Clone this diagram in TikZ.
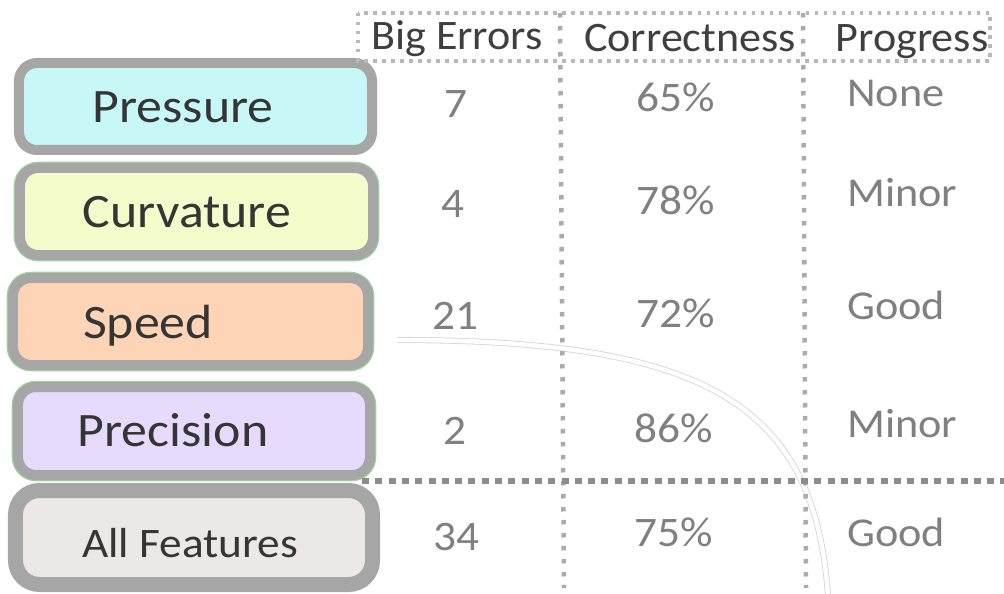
\documentclass[tikz,border=0pt]{standalone}
\usepackage{fontspec}
\setmainfont{Carlito}
\newfontfamily\widefont[FakeStretch=1.08]{Carlito}
\newfontfamily\semiwidefont[FakeStretch=1.05]{Carlito}
\definecolor{boxgrey}{HTML}{A6A6A6}
\definecolor{edgegreen}{HTML}{9AD69A}
\definecolor{fillcyan}{HTML}{C8F7F7}
\definecolor{fillyellow}{HTML}{F4FCCB}
\definecolor{fillpeach}{HTML}{FDD5B6}
\definecolor{filllav}{HTML}{E6DBFC}
\definecolor{fillgrey}{HTML}{EDE8E8}
\definecolor{labeltext}{HTML}{353535}
\definecolor{headtext}{HTML}{3F3F3F}
\definecolor{valtext}{HTML}{808080}
\definecolor{dotlight}{HTML}{B8B8B8}
\definecolor{dotmid}{HTML}{ABABAB}
\definecolor{dotdark}{HTML}{8C8C8C}
\begin{document}
\begin{tikzpicture}[x=1bp,y=-1bp,
  featbox/.style={rounded corners=18bp, draw=boxgrey, line width=10bp, inner sep=0pt,
    minimum width=#1},
  greenedge/.style={preaction={draw=edgegreen, line width=12.5bp}},
  featlabel/.style={anchor=base, inner sep=0pt, text=labeltext, font=\widefont\fontsize{48bp}{56bp}\selectfont},
  headlabel/.style={anchor=base, inner sep=0pt, text=headtext, font=\semiwidefont\fontsize{42bp}{50bp}\selectfont},
  vallabel/.style={anchor=base, inner sep=0pt, text=valtext, font=\widefont\fontsize{42bp}{50bp}\selectfont},
  proglabel/.style={anchor=base west, inner sep=0pt, text=valtext, font=\widefont\fontsize{41bp}{50bp}\selectfont},
  hdrdot/.style={draw=dotlight, line width=3.5bp, dash pattern=on 3.5bp off 5.5bp},
  vdot/.style={draw=dotmid, line width=4.5bp, dash pattern=on 4.5bp off 8.5bp},
  hdot/.style={draw=dotdark, line width=5.5bp, dash pattern=on 7bp off 6.3bp},
  curveline/.style={draw=black!17, line width=0.8bp, double=white, double distance=4.5bp}
]
\useasboundingbox (0,0) rectangle (1004,594);

% feature boxes
\node[featbox=353bp, minimum height=87bp, fill=fillcyan] (bp) at (195.5,106.5) {};
\node[featbox=353bp, minimum height=87bp, fill=fillyellow, greenedge] (bc) at (196.5,211.5) {};
\node[featbox=355bp, minimum height=87bp, fill=fillpeach, greenedge] (bs) at (190.5,321.5) {};
\node[featbox=352bp, minimum height=88bp, fill=filllav, greenedge] (bq) at (194,431) {};
\node[featbox=357bp, minimum height=94bp, fill=fillgrey, line width=15bp, rounded corners=24bp] (ba) at (194,537.5) {};

\node[featlabel] (tp) at (183,123) {Pressure};
\node[featlabel] (tc) at (187,228) {Curvature};
\node[featlabel] (ts) at (148,338) {Speed};
\node[featlabel] (tq) at (173,446) {Precision};
\node[featlabel, font=\widefont\fontsize{42bp}{50bp}\selectfont] (ta) at (190,557) {All Features};

% curve
\coordinate (cstart) at (397,340);
\coordinate (cend) at (828,596);
\draw[curveline] (cstart) .. controls (700,340) and (815,400) .. (cend);

% grid
\draw[hdrdot] (358,13) rectangle (990,61);
\draw[vdot] (560,13) -- (564,588);
\draw[vdot] (803,13) -- (806,588);
\draw[hdot] (362,481) -- (1004,481);

% headers
\node[headlabel] (h1) at (457,50) {Big Errors};
\node[headlabel] (h2) at (690,52) {Correctness};
\node[headlabel] (h3) at (912,52) {Progress};

% big errors
\node[vallabel] (e1) at (456,118) {7};
\node[vallabel] (e2) at (453,218) {4};
\node[vallabel] (e3) at (455,329) {21};
\node[vallabel] (e4) at (455,444) {2};
\node[vallabel] (e5) at (456,550) {34};

% correctness
\node[vallabel] (c1) at (676,112) {65\%};
\node[vallabel] (c2) at (676,215) {78\%};
\node[vallabel] (c3) at (676,327) {72\%};
\node[vallabel] (c4) at (674,442) {86\%};
\node[vallabel] (c5) at (674,546) {75\%};

% progress
\node[proglabel] (p1) at (847,107) {None};
\node[proglabel] (p2) at (847,207) {Minor};
\node[proglabel] (p3) at (847,319) {Good};
\node[proglabel] (p4) at (847,437) {Minor};
\node[proglabel] (p5) at (847,546) {Good};
\end{tikzpicture}
\end{document}
